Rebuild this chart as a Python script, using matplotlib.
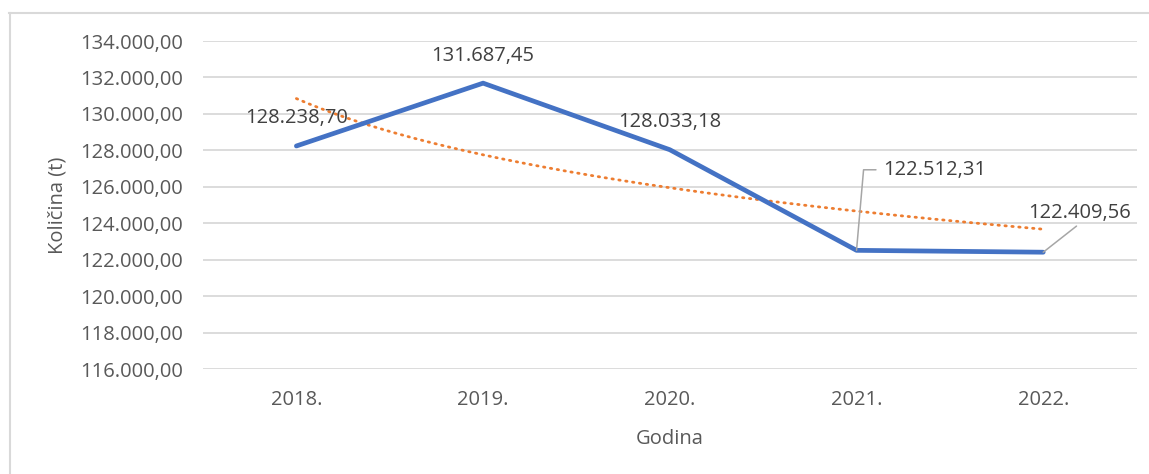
import numpy as np
import matplotlib.pyplot as plt
from matplotlib.ticker import FuncFormatter
from matplotlib.lines import Line2D

godine = ["2018.", "2019.", "2020.", "2021.", "2022."]
kolicina = [128238.70, 131687.45, 128033.18, 122512.31, 122409.56]
y_ticks = [116000, 118000, 120000, 122000, 124000, 126000, 128000, 130000, 132000, 134000]

plt.rcParams['font.family'] = ['Open Sans', 'DejaVu Sans']
siva = "#595959"
fs = 14.5


def hr_broj(v, pos=None):
    s = "{:,.2f}".format(v)
    return s.replace(",", "X").replace(".", ",").replace("X", ".")


fig = plt.figure(figsize=(11.49, 4.74), dpi=100)
ax = fig.add_axes([0.1767, 0.2215, 0.8125, 0.692])

x = np.arange(len(godine))
ax.plot(x, kolicina, color="#4472C4", lw=3.4, solid_capstyle="round", zorder=3)

# logaritamski trend (kao u Excelu)
lx = np.log(x + 1)
k, b = np.polyfit(lx, kolicina, 1)
xt = np.linspace(0, len(godine) - 1, 200)
ax.plot(xt, k * np.log(xt + 1) + b, color="#ED7D31", lw=2.0,
        linestyle=(0, (0.5, 2.0)), dash_capstyle="round", zorder=2)

ax.set_xlim(-0.5, len(godine) - 0.5)
ax.set_ylim(y_ticks[0], y_ticks[-1])
ax.set_yticks(y_ticks)
ax.yaxis.set_major_formatter(FuncFormatter(hr_broj))
ax.set_xticks(x)
ax.set_xticklabels(godine)
ax.grid(axis="y", color="#D9D9D9", lw=1.3)
ax.set_axisbelow(True)
for s in ax.spines.values():
    s.set_visible(False)
ax.tick_params(length=0, labelsize=fs, colors=siva)
ax.tick_params(axis="y", pad=14.4)
ax.tick_params(axis="x", pad=15)

ax.set_xlabel("Godina", fontsize=fs, color=siva)
ax.xaxis.set_label_coords(0.5, -0.183)
ax.set_ylabel("Količina (t)", fontsize=fs, color=siva)
ax.yaxis.set_label_coords(-0.145, 0.5)

# oznake podataka
lab_kw = dict(fontsize=fs, color="#404040", textcoords="offset points")
for i in range(3):
    ax.annotate(hr_broj(kolicina[i]), (x[i], kolicina[i]), xytext=(0, 19.8),
                ha="center", va="center", **lab_kw)
ax.annotate(hr_broj(kolicina[3]), (x[3], kolicina[3]), xytext=(19, 58),
            ha="left", va="center",
            arrowprops=dict(arrowstyle="-", color="#A6A6A6", lw=1.1,
                            relpos=(0, 0.5), shrinkA=3, shrinkB=0,
                            connectionstyle="angle,angleA=180,angleB=85,rad=0"),
            **lab_kw)
ax.annotate(hr_broj(kolicina[4]), (x[4], kolicina[4]), xytext=(26.5, 28),
            ha="center", va="center",
            arrowprops=dict(arrowstyle="-", color="#A6A6A6", lw=1.1,
                            relpos=(0.5, 0), shrinkA=0, shrinkB=0),
            **lab_kw)

# okvir grafikona
fig.add_artist(Line2D([0.0075, 1.0], [0.9725, 0.9725], color="#D9D9D9", lw=1.5))
fig.add_artist(Line2D([0.0085, 0.0085], [0.0, 0.9725], color="#D9D9D9", lw=1.5))

fig.savefig("out.png", dpi=100)
